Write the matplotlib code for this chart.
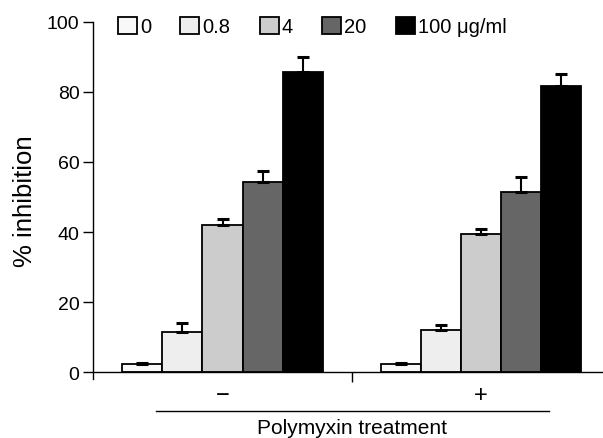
import numpy as np
import matplotlib.pyplot as plt
from matplotlib.patches import Patch

plt.rcParams['font.family'] = ['Liberation Sans', 'DejaVu Sans']

# Datos
grupos = ["\u2212", "+"]
dosis = ["0", "0.8", "4", "20", "100 \u03bcg/ml"]
valores = [
    [2.3, 11.6, 42.1, 54.3, 85.6],   # sin polimixina
    [2.4, 12.0, 39.3, 51.4, 81.8],   # con polimixina
]
errores = [
    [0.3, 2.3, 1.6, 3.1, 4.5],
    [0.3, 1.4, 1.7, 4.3, 3.4],
]
colores = ["#f8f8f8", "#eeeeee", "#cccccc", "#666666", "#000000"]

valores = np.array(valores)
errores = np.array(errores)

fig = plt.figure(figsize=(6.03, 4.39), dpi=100)
ax = fig.add_axes([0.1547, 0.134, 0.8453, 0.814])

x = np.arange(len(grupos))
ancho = 0.1555
for i in range(len(dosis)):
    pos = x + (i - 2) * ancho
    ax.bar(pos, valores[:, i], width=ancho, color=colores[i],
           edgecolor="black", linewidth=1.3, zorder=2)
    ax.errorbar(pos, valores[:, i],
                yerr=[np.zeros(len(grupos)), errores[:, i]],
                fmt="none", ecolor="black", elinewidth=1.5,
                capsize=4, capthick=2.2, zorder=3)

ax.set_xlim(-0.5, 1.472)
ax.set_ylim(-2, 100)
ax.set_yticks([0, 20, 40, 60, 80, 100])
ax.tick_params(axis="y", labelsize=14, length=7, width=1, pad=3)
ax.set_xticks([0.5])
ax.set_xticklabels([""])
ax.tick_params(axis="x", length=7, width=1)

ax.spines["top"].set_visible(False)
ax.spines["right"].set_visible(False)
ax.spines["bottom"].set_position(("data", 0))
ax.spines["left"].set_linewidth(1)
ax.spines["bottom"].set_linewidth(1)

ax.set_ylabel("% inhibition", fontsize=18.5, labelpad=7)

# Etiquetas de grupo y titulo del eje x
for xi, g in zip(x, grupos):
    ax.text(xi, -6.5, g, ha="center", va="center", fontsize=17,
            transform=ax.transData, clip_on=False)
ax.plot([-0.2565, 1.2638], [-11, -11], color="black", lw=1,
        clip_on=False)
ax.text(0.5, -15.9, "Polymyxin treatment", ha="center", va="center",
        fontsize=15, clip_on=False)

# Leyenda horizontal arriba
manijas = [Patch(facecolor=c, edgecolor="black", linewidth=1.3)
           for c in colores]
fig.legend(manijas, dosis, loc="center", ncol=5, frameon=False,
           bbox_to_anchor=(0.518, 0.937), fontsize=14.5,
           handlelength=0.95, handleheight=0.95, handletextpad=0.15,
           columnspacing=1.45, borderaxespad=0)

plt.savefig("out.png", dpi=100)
